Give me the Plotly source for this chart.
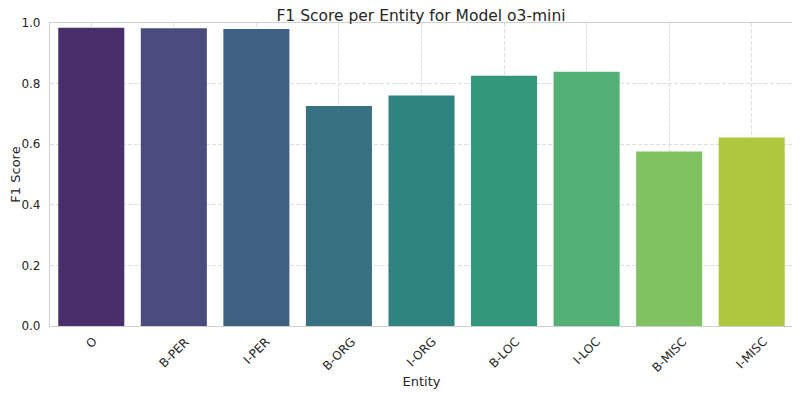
import colorsys
import plotly.graph_objects as go

entities = ["O", "B-PER", "I-PER", "B-ORG", "I-ORG", "B-LOC", "I-LOC", "B-MISC", "I-MISC"]
f1_scores = [0.984, 0.983, 0.980, 0.726, 0.761, 0.826, 0.839, 0.576, 0.622]
y_ticks = [0.0, 0.2, 0.4, 0.6, 0.8, 1.0]

# seaborn-like viridis palette (9 colours), desaturated 0.75
viridis_hex = ["#482475", "#414487", "#355f8d", "#2a788e", "#21918c",
               "#22a884", "#44bf70", "#7ad151", "#bddf26"]


def desat(hx, prop=0.75):
    r, g, b = (int(hx[i:i + 2], 16) / 255 for i in (1, 3, 5))
    h, l, s = colorsys.rgb_to_hls(r, g, b)
    r, g, b = colorsys.hls_to_rgb(h, l, s * prop)
    return "rgb(%d,%d,%d)" % (round(r * 255), round(g * 255), round(b * 255))


colors = [desat(c) for c in viridis_hex]
txt = "#262626"
font = "DejaVu Sans"

# the page body adds an 8px offset, so the figure is 792x387
W, H = 792, 387

fig = go.Figure(go.Bar(x=entities, y=f1_scores, marker=dict(color=colors, line=dict(width=0))))

for e in entities:
    fig.add_annotation(x=e, xref="x", y=-0.02, yref="paper", text=e, showarrow=False,
                       textangle=-45, xanchor="center", yanchor="top",
                       font=dict(family=font, size=12, color=txt))

fig.update_layout(
    width=W, height=H,
    margin=dict(l=42, r=7, t=15, b=69, autoexpand=False),
    paper_bgcolor="white", plot_bgcolor="white",
    bargap=0.2,
    showlegend=False,
    title=dict(text="F1 Score per Entity for Model o3-mini", x=(421 - 8) / W, xanchor="center",
               xref="container", yref="container", y=1 - 8 / H, yanchor="middle",
               font=dict(family=font, size=15.5, color=txt)),
    font=dict(family=font, color=txt),
)

fig.update_xaxes(
    showticklabels=False, range=[-0.5, 8.5], automargin=False,
    showgrid=True, gridcolor="#dedede", griddash="4px,2px", gridwidth=1,
    showline=True, linecolor="#d0d0d0", linewidth=1.2, mirror=True,
    title=dict(text="Entity", font=dict(family=font, size=13, color=txt), standoff=50),
    ticks="",
)
fig.update_yaxes(
    range=[0, 1.0], tickvals=y_ticks, tickformat=".1f", automargin=False,
    tickfont=dict(family=font, size=12, color=txt), ticklabelstandoff=6,
    showgrid=True, gridcolor="#dedede", griddash="4px,2px", gridwidth=1,
    showline=True, linecolor="#d0d0d0", linewidth=1.2, mirror=True,
    zeroline=False, ticks="",
    title=dict(text="F1 Score", font=dict(family=font, size=13, color=txt), standoff=7),
)

fig.write_html("out.html")
